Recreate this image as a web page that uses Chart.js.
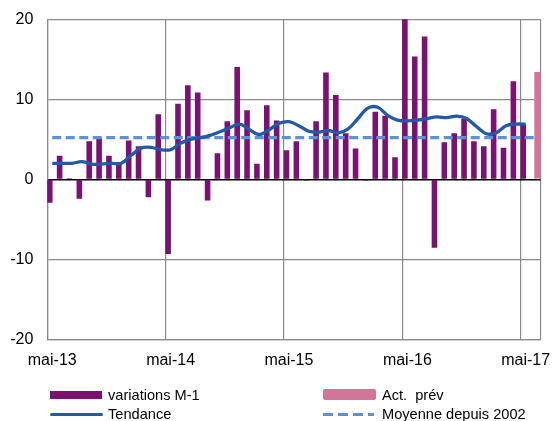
<!DOCTYPE html>
<html>
<head>
<meta charset="utf-8">
<script src="https://cdn.jsdelivr.net/npm/chart.js@4.4.0/dist/chart.umd.min.js"></script>
<style>
html, body { margin: 0; padding: 0; background: #fff; }
#wrap { position: relative; width: 552px; height: 421px; font-family: "Liberation Sans", Arial, sans-serif; }
#chart { position: absolute; left: 0; top: 0; }
.lg { position: absolute; font-size: 14.6px; color: #000; white-space: pre; line-height: 16px; }
.sw { position: absolute; }
</style>
</head>
<body>
<div id="wrap">
  <canvas id="chart" width="552" height="421"></canvas>
  <div class="sw" style="left:50px;top:391px;width:52px;height:8px;background:#7b1173"></div>
  <div class="lg" style="left:108px;top:387px">variations M-1</div>
  <div class="sw" style="left:50px;top:412.5px;width:53px;height:3px;border-radius:2px;background:#235aa8"></div>
  <div class="lg" style="left:108px;top:406px">Tendance</div>
  <div class="sw" style="left:323px;top:388.5px;width:53px;height:11.5px;border-radius:2px;background:#d47498"></div>
  <div class="lg" style="left:382px;top:387px">Act.  prév</div>
  <div class="sw" style="left:323px;top:412.5px;width:51px;height:3px;background:repeating-linear-gradient(to right,#5a91d7 0 10px,transparent 10px 15px)"></div>
  <div class="lg" style="left:382px;top:406px">Moyenne depuis 2002</div>
</div>
<script>
// months mai-13 .. juin-17
const months = [
  'mai-13', 'juin-13', 'juil-13', 'août-13', 'sept-13', 'oct-13', 'nov-13', 'déc-13',
  'janv-14', 'févr-14', 'mars-14', 'avr-14', 'mai-14', 'juin-14', 'juil-14', 'août-14', 'sept-14', 'oct-14', 'nov-14', 'déc-14',
  'janv-15', 'févr-15', 'mars-15', 'avr-15', 'mai-15', 'juin-15', 'juil-15', 'août-15', 'sept-15', 'oct-15', 'nov-15', 'déc-15',
  'janv-16', 'févr-16', 'mars-16', 'avr-16', 'mai-16', 'juin-16', 'juil-16', 'août-16', 'sept-16', 'oct-16', 'nov-16', 'déc-16',
  'janv-17', 'févr-17', 'mars-17', 'avr-17', 'mai-17', 'juin-17'
];

const variations = [
  -2.9, 2.9, 0.1, -2.4, 4.7, 5.1, 2.9, 2.0, 4.8, 4.1, -2.2, 8.1,
  -9.3, 9.4, 11.7, 10.8, -2.6, 3.2, 7.2, 14.0, 8.6, 1.9, 9.2, 7.3,
  3.6, 4.7, -0.1, 7.2, 13.3, 10.5, 5.7, 3.8, -0.1, 8.4, 7.9, 2.7,
  20.0, 15.3, 17.8, -8.5, 4.6, 5.7, 7.5, 4.7, 4.1, 8.7, 3.9, 12.2,
  6.8, null
];

const actPrevMonth = 'juin-17';
const actPrevValue = 13.4;

const tendance = [
  2.0, 2.0, 2.0, 2.2, 1.9, 1.9, 2.0, 2.0, 3.0, 3.9, 4.0, 3.7,
  3.7, 4.5, 5.0, 5.2, 5.5, 5.95, 6.45, 6.9, 6.2, 5.6, 6.2, 7.0,
  7.2, 6.7, 6.0, 5.9, 6.1, 5.8, 6.3, 7.6, 8.9, 9.0, 8.0, 7.4,
  7.3, 7.4, 7.6, 7.8, 7.7, 7.9, 7.6, 6.6, 5.7, 5.8, 6.7, 6.9,
  6.9
];

const moyenne = [
  5.2, 5.2, 5.2, 5.2, 5.2, 5.2, 5.2, 5.2, 5.2, 5.2, 5.2, 5.2,
  5.2, 5.2, 5.2, 5.2, 5.2, 5.2, 5.2, 5.2, 5.2, 5.2, 5.2, 5.2,
  5.2, 5.2, 5.2, 5.2, 5.2, 5.2, 5.2, 5.2, 5.2, 5.2, 5.2, 5.2,
  5.2, 5.2, 5.2, 5.2, 5.2, 5.2, 5.2, 5.2, 5.2, 5.2, 5.2, 5.2,
  5.2, 5.2
];

const yTicks = [-20, -10, 0, 10, 20];

const gridGrey = '#8a8a8a';
const isMay = (i) => i === undefined || months[i] === undefined || months[i].startsWith('mai');

const ctx = document.getElementById('chart').getContext('2d');
const chart = new Chart(ctx, {
    data: {
        labels: months,
        datasets: [
            {
                type: 'line',
                label: 'Tendance',
                data: tendance,
                borderColor: '#235aa8',
                borderWidth: 3.3,
                pointRadius: 0,
                tension: 0.35,
                order: 0
            },
            {
                type: 'line',
                label: 'Moyenne depuis 2002',
                data: moyenne,
                borderColor: '#5a91d7',
                borderWidth: 3.3,
                borderDash: [9, 4.5],
                pointRadius: 0,
                order: 1
            },
            {
                type: 'bar',
                label: 'variations M-1',
                data: variations,
                backgroundColor: '#7b1173',
                categoryPercentage: 1,
                barPercentage: 1,
                order: 2
            },
            {
                type: 'bar',
                label: 'Act. prév',
                data: [{ x: actPrevMonth, y: actPrevValue }],
                backgroundColor: '#d47498',
                categoryPercentage: 1,
                barPercentage: 1.5,
                order: 2
            }
        ]
    },
    options: {
        responsive: false,
        animation: false,
        layout: { padding: { top: 19.3, right: 11.5, bottom: 51.7, left: 0 } },
        plugins: {
            legend: { display: false },
            tooltip: { enabled: false }
        },
        scales: {
            x: {
                type: 'category',
                offset: true,
                afterFit: (s) => { s.height = 30; },
                grid: {
                    offset: true,
                    drawTicks: false,
                    lineWidth: 1.2,
                    color: (c) => isMay(c.index) ? gridGrey : 'rgba(0,0,0,0)'
                },
                border: { display: true, color: gridGrey, width: 1.2 },
                ticks: {
                    autoSkip: false,
                    maxRotation: 0,
                    padding: 12,
                    color: '#000',
                    font: { family: '"Liberation Sans", Arial, sans-serif', size: 16 },
                    callback: function (v, i) { return months[i].startsWith('mai') ? months[i] : ''; }
                }
            },
            y: {
                min: -20,
                max: 20,
                afterFit: (s) => { s.width = 47.3; },
                afterBuildTicks: (s) => { s.ticks = yTicks.map(v => ({ value: v })); },
                grid: {
                    drawTicks: false,
                    lineWidth: (c) => c.tick && c.tick.value === 0 ? 1.6 : 1.2,
                    color: (c) => c.tick && c.tick.value === 0 ? '#000' : gridGrey
                },
                border: { display: true, color: gridGrey, width: 1.2 },
                ticks: {
                    padding: 14,
                    color: '#000',
                    font: { family: '"Liberation Sans", Arial, sans-serif', size: 16, lineHeight: 0.6 }
                }
            }
        }
    }
});
</script>
</body>
</html>
